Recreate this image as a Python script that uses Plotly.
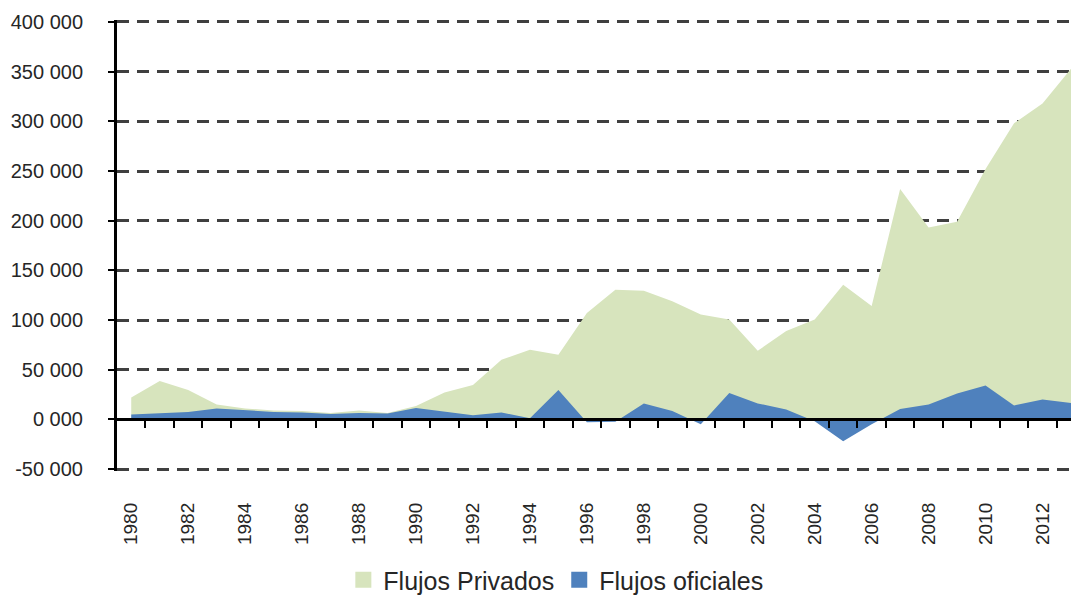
import plotly.graph_objects as go

years = list(range(1980, 2014))

privados = [22000, 38500, 29500, 15000, 11000, 9000, 8500, 6500, 9000, 6500,
            13500, 27000, 34500, 60000, 70000, 65000, 107000, 130500, 129500, 119000,
            105500, 100500, 69000, 89000, 100500, 135500, 114000, 232000, 193000, 199000,
            252000, 298000, 318000, 353000]

oficiales = [5000, 6000, 7500, 11000, 9500, 7500, 7000, 5500, 6500, 6000,
             11500, 8000, 4000, 7000, 1000, 29500, -3000, -2500, 16000, 8500,
             -5000, 26500, 16000, 10000, -2000, -22000, -5000, 10500, 15000, 26000,
             34000, 14000, 20000, 16500]

y_ticks = [-50000, 0, 50000, 100000, 150000, 200000, 250000, 300000, 350000, 400000]
y_labels = ['-50 000', '0 000', '50 000', '100 000', '150 000', '200 000',
            '250 000', '300 000', '350 000', '400 000']
x_labels = list(range(1980, 2013, 2))

font = 'Liberation Sans, Arial, sans-serif'
verde = '#d7e4bd'
azul = '#4f81bd'

fig = go.Figure()
fig.add_trace(go.Scatter(
    x=years, y=privados, name='Flujos Privados', mode='lines', showlegend=False,
    fill='tozeroy', fillcolor=verde, line=dict(width=0, color=verde),
))
fig.add_trace(go.Scatter(
    x=years, y=oficiales, name='Flujos oficiales', mode='lines', showlegend=False,
    fill='tozeroy', fillcolor=azul, line=dict(width=0, color=azul),
))
# legend entries with square swatches
for name, col in [('Flujos Privados', verde), ('Flujos oficiales', azul)]:
    fig.add_trace(go.Scatter(x=[None], y=[None], name=name, mode='markers',
                             marker=dict(symbol='square', size=17, color=col)))
# invisible trace to carry the axis that sits on zero
fig.add_trace(go.Scatter(x=[1980], y=[0], xaxis='x2', mode='markers',
                         marker=dict(opacity=0), showlegend=False, hoverinfo='skip'))

pad = 2000
yr = [-50000 - pad, 400000 + pad]
xr = [1979.5, 2013.0]

W, H = 1073, 604
mt, mb = 20, 132
ph = H - mt - mb

fig.update_layout(
    width=W, height=H,
    margin=dict(l=117, r=2, t=mt, b=mb),
    paper_bgcolor='white', plot_bgcolor='white',
    font=dict(family=font, color='#262626'),
    showlegend=True,
    legend=dict(orientation='h', x=0.46, xanchor='center',
                y=-(mb - 1) / ph, yanchor='bottom', tracegroupgap=0,
                font=dict(size=25, color='#262626'), itemwidth=30, traceorder='normal'),
    xaxis=dict(
        range=xr, showline=False, showgrid=False, zeroline=False, automargin=False,
        tickvals=x_labels, ticktext=[str(v) for v in x_labels],
        tickangle=-90, ticks='', tickfont=dict(size=19),
        ticklabelstandoff=27,
    ),
    xaxis2=dict(
        range=xr, overlaying='x', anchor='free',
        position=(50000 + pad) / (450000 + 2 * pad),
        showline=True, linecolor='black', linewidth=3, automargin=False,
        ticks='outside', ticklen=7, tickwidth=2, tickcolor='black',
        tickvals=[y + 0.5 for y in range(1980, 2013)],
        showticklabels=False, showgrid=False, zeroline=False,
    ),
    yaxis=dict(
        range=yr, tickvals=y_ticks, ticktext=y_labels, automargin=False,
        showline=True, linecolor='black', linewidth=3,
        ticks='outside', ticklen=6, tickwidth=2, tickcolor='black',
        tickfont=dict(size=20), ticklabelstandoff=21,
        showgrid=True, gridcolor='#404040', gridwidth=2.5, griddash='12px,8px',
        zeroline=False,
    ),
)

# drop the default page margin so the 1073x604 figure fills the window exactly
fig.write_html("out.html", config={'displayModeBar': False},
               post_script="document.body.style.margin='0';document.body.style.overflow='hidden';")
